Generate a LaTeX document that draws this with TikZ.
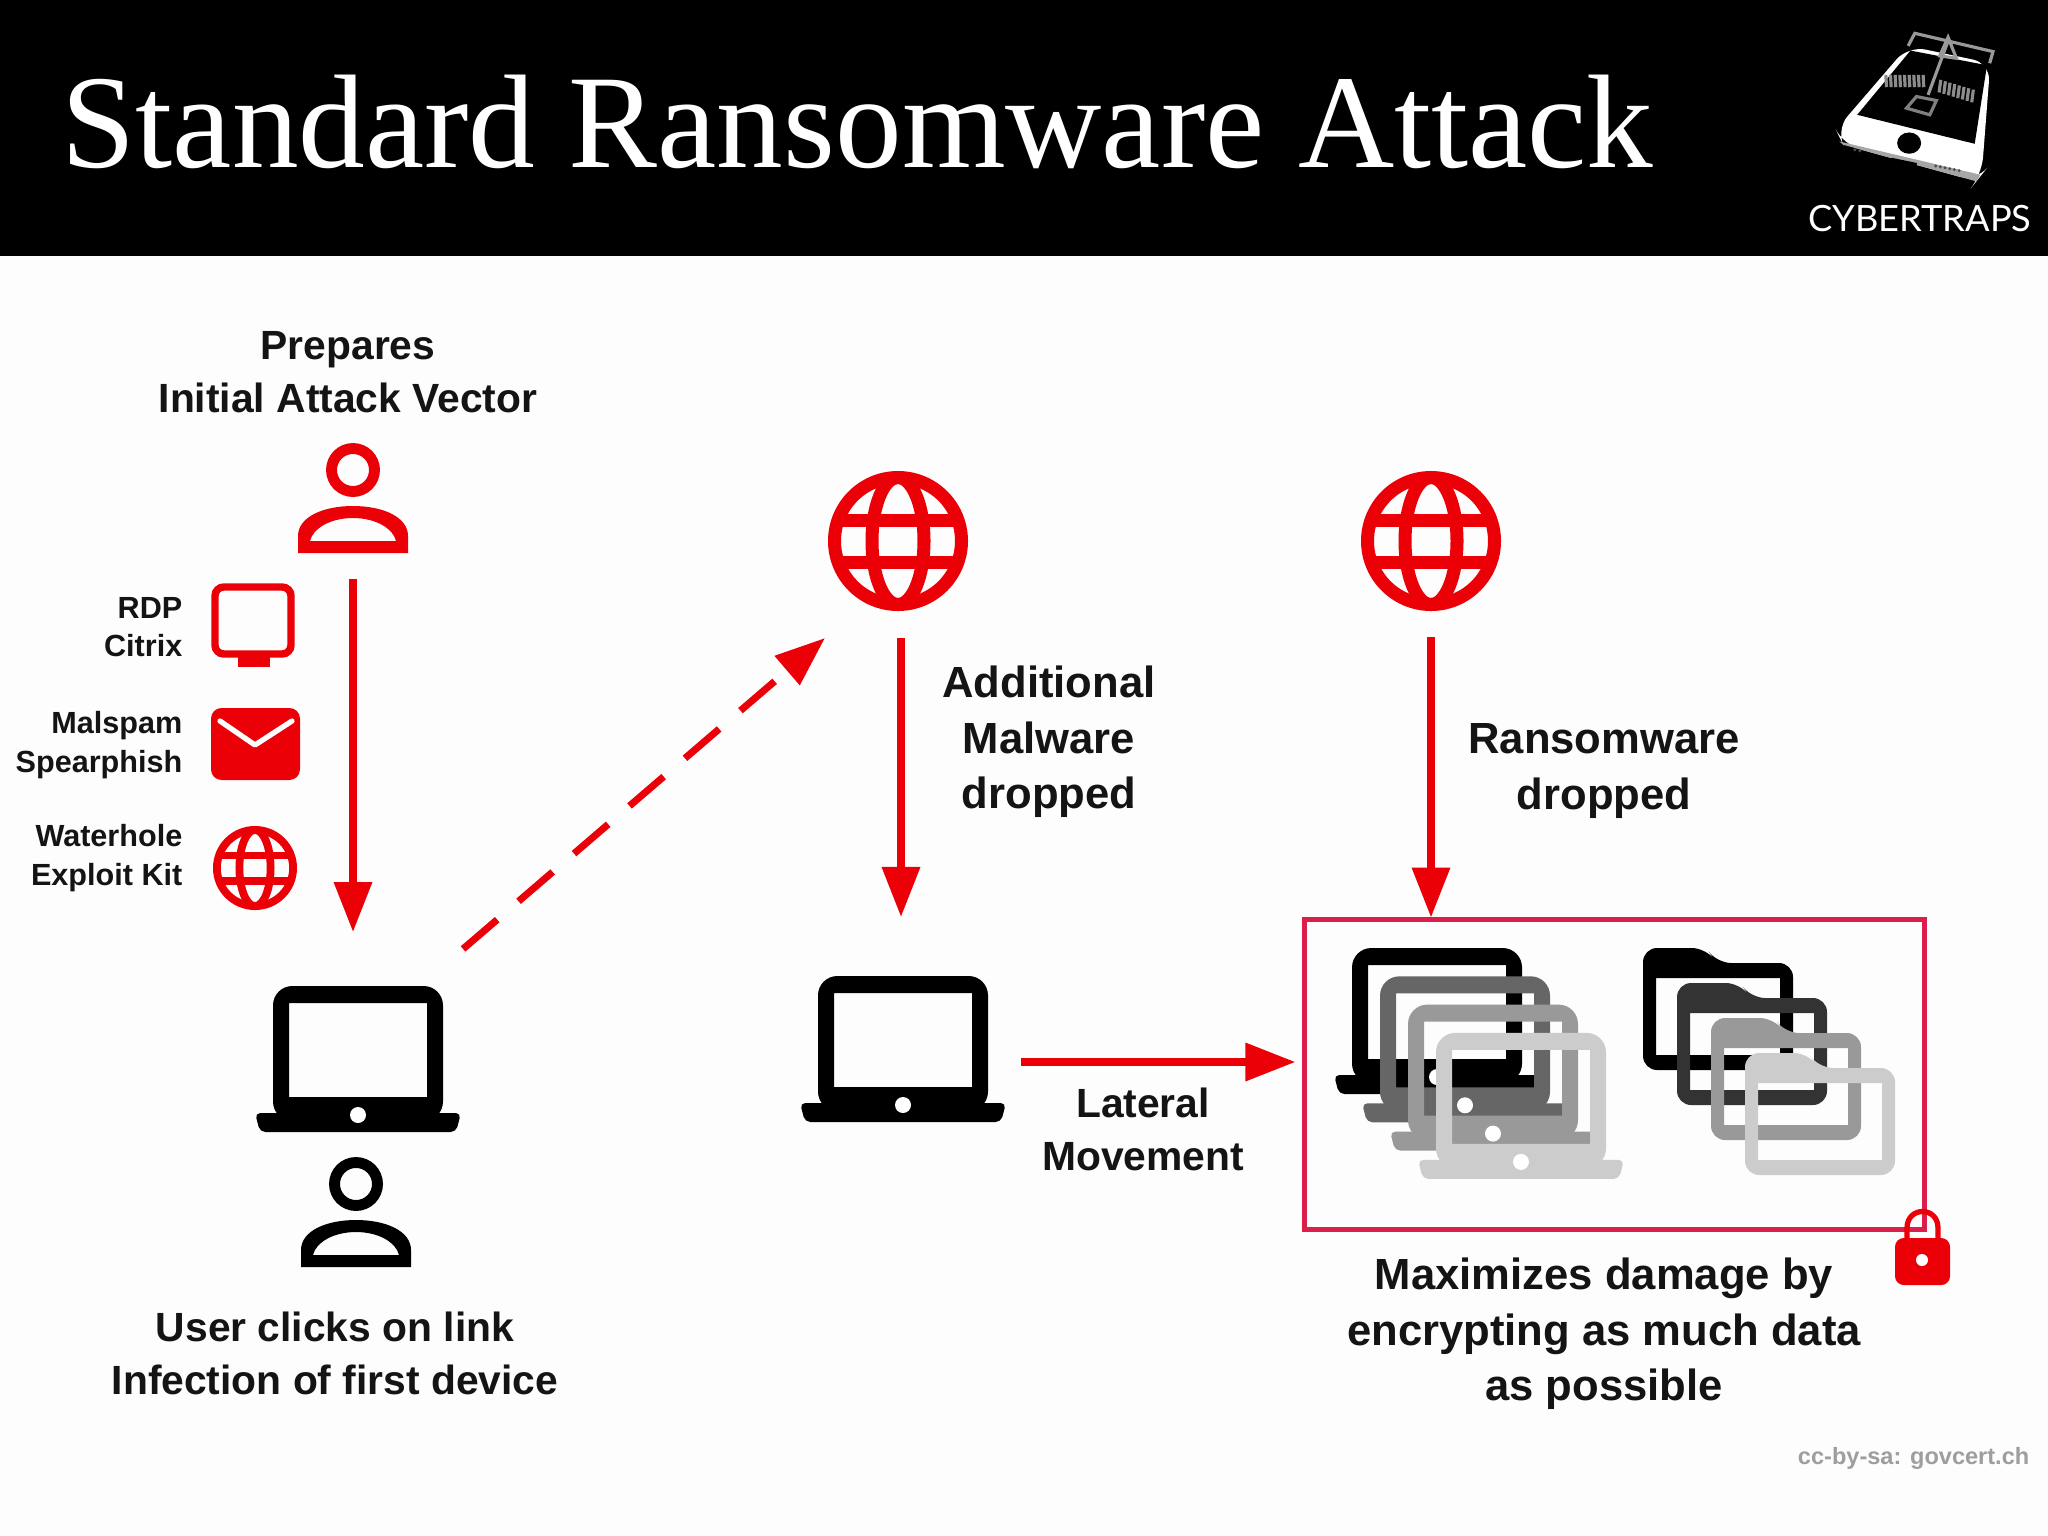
\documentclass[tikz,border=0pt]{standalone}
\usepackage{fontspec}
\setmainfont{Liberation Sans}
\newfontfamily\titlefont{Liberation Serif}
\newfontfamily\logofont{Lato}
\usetikzlibrary{arrows.meta}
\definecolor{alertred}{HTML}{EC0008}
\definecolor{boxred}{HTML}{DC1E4B}
\definecolor{paper}{HTML}{FDFDFD}
\tikzset{
  spot/.style={inner sep=0pt,outer sep=0pt,minimum width=#1},
  redarrow/.style={-{Triangle[length=14.2pt,width=10.5pt]},alertred,line width=2pt},
  biglabel/.style={font=\bfseries\fontsize{12.4}{15.8}\selectfont,align=center,text=black!92,inner sep=0pt},
  midlabel/.style={font=\bfseries\fontsize{11.6}{15.1}\selectfont,align=center,text=black!92,inner sep=0pt},
  sidelabel/.style={font=\bfseries\fontsize{8.7}{11}\selectfont,align=right,text=black!92,inner sep=0pt,anchor=east},
  pics/person/.style={code={
    \draw[#1,line width=3.1pt] (0,0) circle[radius=21.5];
    \fill[#1,even odd rule] (-55,83) -- (-55,66) .. controls (-55,47) and (-30,36) .. (0,36)
      .. controls (30,36) and (55,47) .. (55,66) -- (55,83) -- cycle
      (-43,71) .. controls (-40,58) and (-22,48) .. (0,48)
      .. controls (22,48) and (40,58) .. (43,71) -- cycle;
  }},
  pics/laptop/.style={code={
    \fill[fill=#1,even odd rule] [rounded corners=5.5pt] (-85,0) rectangle (85,135)
      [sharp corners] (-69,17) rectangle (69,111);
    \fill[fill=#1,rounded corners=1.5pt] (-103,127) -- (103,127) -- (98,146) -- (-98,146) -- cycle;
    \fill[white] (0,129) circle[radius=8];
  }},
  pics/folder/.style={code={
    \fill[fill=#1,even odd rule] [rounded corners=4pt] (0,0) -- (63,0) -- (74,15) -- (150,15)
      -- (150,122) -- (0,122) -- cycle
      [sharp corners] (13,30) rectangle (137,107);
  }},
  pics/globe/.style={code={
    \draw[alertred,line width=#1*3.7pt] (0,0) circle[radius=#1*63.5];
    \draw[alertred,line width=#1*3.7pt] (0,0) ellipse[x radius=#1*26,y radius=#1*63.5];
    \draw[alertred,line width=#1*3.7pt] (-#1*58,-#1*21) -- (#1*58,-#1*21);
    \draw[alertred,line width=#1*3.7pt] (-#1*58,#1*21) -- (#1*58,#1*21);
  }}
}
\begin{document}
\begin{tikzpicture}[x=0.01cm,y=-0.01cm,>=Triangle]
\fill[paper] (0,0) rectangle (2048,1536);
\useasboundingbox (0,0) rectangle (2048,1536);

% 1. header
\fill[black] (0,0) rectangle (2048,256);
\node[anchor=base west,inner sep=0pt,text=white,font=\titlefont\fontsize{37.9}{44}\selectfont] (title) at (61,167) {Standard Ransomware Attack};

% 2. logo
\begin{scope}[shift={(1780,0)},x=0.00333cm,y=-0.00333cm]
\fill[white,rounded corners=5pt] (385,138) -- (632,190) -- (606,525) -- (590,545) -- (190,435) -- (168,390) -- cycle;
\fill[black!35] (178,425) -- (602,525) -- (590,545) -- (190,435) -- cycle;
\fill[black] (392,152) -- (622,196) -- (585,432) -- (232,345) -- cycle;
\fill[black] (388,430) ellipse[x radius=36,y radius=32];
\fill[black] (335,474) -- (412,490) -- (408,502) -- (335,486) -- cycle;
\foreach \x in {225,240,468,482,496,510,524,538}{\fill[black!70] (\x,{450+(\x-225)*0.2}) circle[radius=5];}
\draw[black!40,line width=0.9pt] (385,138) -- (405,100) -- (640,155) -- (630,190);
\draw[black!40,line width=0.9pt] (508,115) -- (445,285) (480,168) -- (505,112) -- (530,175) -- cycle;
\draw[black!50,line width=0.9pt] (410,290) -- (470,302) -- (450,345) -- (380,325) -- cycle;
\foreach \x in {318,332,346,360,374,388,402,416,430}{\draw[black!45,line width=0.9pt] (\x,225) -- (\x+2,262);}
\foreach \x in {478,492,506,520,534,548,562,576}{\draw[black!45,line width=0.9pt] ({\x+5},{240+(\x-478)*0.3}) -- (\x,{278+(\x-478)*0.3});}
\end{scope}
\node[inner sep=0pt,text=white,font=\logofont\fontsize{10.3}{12}\selectfont] (brand) at (1920,219) {CYBERTRAPS};

% 3. first column
\node[midlabel] (prepares) at (348,372) {Prepares\\Initial Attack Vector};
\pic at (353,470) {person=alertred};
\node[spot=1.1cm,minimum height=1.58cm] (userTop) at (353,500) {};
\draw[alertred,line width=2.1pt,rounded corners=2.5pt] (215,587) rectangle (291,654);
\fill[alertred] (238,656) rectangle (270,667);
\node[sidelabel] (rdp) at (183,627) {RDP\\Citrix};
\fill[alertred,rounded corners=3pt] (211,708) rectangle (300,780);
\draw[paper,line width=1.5pt,line cap=round,line join=round] (220,721) -- (255,745) -- (292,721);
\node[sidelabel] (spam) at (183,745) {Malspam\\Spearphish};
\pic at (255,868) {globe=0.6};
\node[sidelabel] (water) at (183,858) {Waterhole\\Exploit Kit};
\pic at (358,986) {laptop=black};
\node[spot=2.1cm,minimum height=2.04cm] (laptopA) at (358,1034) {};
\pic at (356,1184) {person=black};
\node[midlabel] (clicks) at (335,1353) {User clicks on link\\Infection of first device};

% 4. second column
\pic at (898,541) {globe=1};
\node[spot=1.52cm,minimum height=1.96cm] (globeA) at (901,540) {};
\node[biglabel] (additional) at (1049,742) {Additional\\Malware\\dropped};
\pic at (903,976) {laptop=black};
\node[spot=2.36cm,minimum height=2.9cm] (laptopB) at (903,1062) {};
\node[midlabel] (lateral) at (1143,1129) {Lateral\\Movement};

% 5. third column
\pic at (1431,541) {globe=1};
\node[spot=1.52cm,minimum height=1.92cm] (globeB) at (1431,541) {};
\node[biglabel] (ransom) at (1604,771) {Ransomware\\dropped};
\node[draw=boxred,line width=1.4pt,inner sep=0pt,minimum width=6.19cm,minimum height=3.09cm] (encBox) at (1614.5,1074.5) {};
\foreach \i/\c in {0/black,1/black!60,2/black!40,3/black!20}{\pic at ({1437+28*\i},{948+28.3*\i}) {laptop=\c};}
\foreach \i/\c in {0/black,1/black!80,2/black!40,3/black!20}{\pic at ({1643+34*\i},{948+35*\i}) {folder=\c};}
\draw[alertred,line width=1.5pt] (1907,1240) -- (1907,1228) .. controls (1907,1206) and (1938,1206) .. (1938,1228) -- (1938,1240);
\fill[alertred,rounded corners=2.5pt] (1895,1238) rectangle (1950,1285);
\fill[white] (1922,1260) circle[radius=6];
\node[biglabel] (damage) at (1604,1334) {Maximizes damage by\\encrypting as much data\\as possible};
\node[anchor=east,inner sep=0pt,text=black!38,font=\bfseries\fontsize{6.7}{9}\selectfont] (credit) at (2030,1458) {cc-by-sa: govcert.ch};

% 6. arrows
\draw[redarrow] (userTop.south) -- (userTop.south |- laptopA.north);
\draw[redarrow,dash pattern=on 12.8pt off 8pt] (laptopA.39) -- (globeA.south west);
\draw[redarrow] (globeA.south) -- (globeA.south |- laptopB.north);
\draw[redarrow] (globeB.south) -- (globeB.south |- encBox.north);
\draw[redarrow,shorten >=2pt] (laptopB.east) -- (laptopB.east -| encBox.west);
\end{tikzpicture}
\end{document}
